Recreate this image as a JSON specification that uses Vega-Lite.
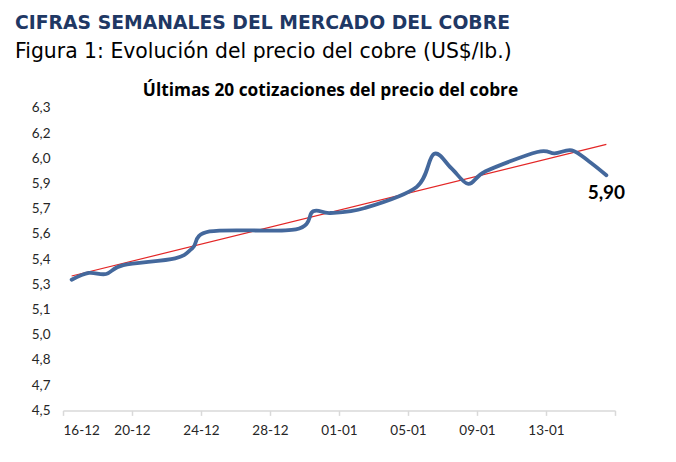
{
  "$schema": "https://vega.github.io/schema/vega-lite/v6.json",
  "autosize": {"type": "none"},
  "padding": {"left": 63, "top": 108, "right": 61, "bottom": 52},
  "width": 552,
  "height": 302.4,
  "title": {
    "text": "CIFRAS SEMANALES DEL MERCADO DEL COBRE",
    "subtitle": "Figura 1: Evolución del precio del cobre (US$/lb.)",
    "anchor": "start",
    "frame": "group",
    "dx": -48,
    "offset": 20,
    "font": "DejaVu Sans",
    "fontSize": 18.8,
    "fontWeight": "bold",
    "color": "#1F3864",
    "subtitleFont": "DejaVu Sans",
    "subtitleFontSize": 20.4,
    "subtitleColor": "#000000",
    "subtitlePadding": 9
  },
  "data": {
    "values": [
      {"date": "2025-12-16", "price": 5.278},
      {"date": "2025-12-17", "price": 5.318},
      {"date": "2025-12-18", "price": 5.312},
      {"date": "2025-12-19", "price": 5.365},
      {"date": "2025-12-22", "price": 5.405},
      {"date": "2025-12-23", "price": 5.465},
      {"date": "2025-12-24", "price": 5.565},
      {"date": "2025-12-29", "price": 5.578},
      {"date": "2025-12-30", "price": 5.685},
      {"date": "2025-12-31", "price": 5.675},
      {"date": "2026-01-02", "price": 5.705},
      {"date": "2026-01-05", "price": 5.83},
      {"date": "2026-01-06", "price": 6.026},
      {"date": "2026-01-07", "price": 5.943},
      {"date": "2026-01-08", "price": 5.848},
      {"date": "2026-01-09", "price": 5.923},
      {"date": "2026-01-12", "price": 6.038},
      {"date": "2026-01-13", "price": 6.03},
      {"date": "2026-01-14", "price": 6.048},
      {"date": "2026-01-15", "price": 5.982},
      {"date": "2026-01-16", "price": 5.9}
    ],
    "format": {"parse": {"date": "date"}}
  },
  "encoding": {
    "x": {
      "field": "date",
      "type": "temporal",
      "timeUnit": "utcyearmonthdate",
      "bandPosition": 0.5,
      "scale": {
        "type": "utc",
        "domain": [
          {"year": 2025, "month": 12, "date": 16, "utc": true},
          {"year": 2026, "month": 1, "date": 17, "utc": true}
        ]
      }
    },
    "y": {
      "field": "price",
      "type": "quantitative",
      "scale": {"domain": [4.5, 6.3], "nice": false, "zero": false},
      "axis": {
        "title": null,
        "values": [4.5, 4.65, 4.8, 4.95, 5.1, 5.25, 5.4, 5.55, 5.7, 5.85, 6.0, 6.15, 6.3],
        "labelExpr": "replace(format(round(datum.value * 10) / 10, '.1f'), '.', ',')",
        "domain": false,
        "ticks": false,
        "grid": false,
        "labelPadding": 13
      }
    }
  },
  "layer": [
    {
      "mark": {"type": "line", "color": "#E32626", "strokeWidth": 1.2},
      "transform": [{"regression": "price", "on": "date"}],
      "encoding": {
        "x": {
          "field": "date",
          "type": "temporal",
          "timeUnit": "utcyearmonthdate",
          "bandPosition": 0.5,
          "axis": {
            "title": null,
            "values": [
              {"year": 2025, "month": 12, "date": 16, "utc": true},
              {"year": 2025, "month": 12, "date": 20, "utc": true},
              {"year": 2025, "month": 12, "date": 24, "utc": true},
              {"year": 2025, "month": 12, "date": 28, "utc": true},
              {"year": 2026, "month": 1, "date": 1, "utc": true},
              {"year": 2026, "month": 1, "date": 5, "utc": true},
              {"year": 2026, "month": 1, "date": 9, "utc": true},
              {"year": 2026, "month": 1, "date": 13, "utc": true},
              {"year": 2026, "month": 1, "date": 17, "utc": true}
            ],
            "labelExpr": "utcFormat(datum.value, '%d-%m') == '17-01' ? '' : utcFormat(datum.value, '%d-%m')",
            "labelDx": 8.6,
            "labelPadding": 8,
            "tickSize": 5,
            "grid": false,
            "domainColor": "#D9D9D9",
            "domainWidth": 1.5,
            "tickColor": "#D9D9D9",
            "tickWidth": 1.5
          }
        }
      }
    },
    {
      "mark": {"type": "line", "interpolate": "cardinal", "color": "#44689C", "strokeWidth": 3.8, "strokeCap": "round"},
      "encoding": {
        "x": {"field": "date", "type": "temporal", "timeUnit": "utcyearmonthdate", "bandPosition": 0.5, "axis": null}
      }
    },
    {
      "mark": {"type": "text", "font": "Lato", "fontSize": 19, "fontWeight": "bold", "color": "#000000", "dy": 18, "baseline": "middle"},
      "transform": [
        {"filter": {"timeUnit": "utcyearmonthdate", "field": "date", "equal": {"year": 2026, "month": 1, "date": 16, "utc": true}}}
      ],
      "encoding": {
        "x": {
          "field": "date",
          "type": "temporal",
          "timeUnit": "utcyearmonthdate",
          "bandPosition": 0.5,
          "axis": {
            "orient": "top",
            "title": "Últimas 20 cotizaciones del precio del cobre",
            "titleFont": "Open Sans",
            "titleFontSize": 17.3,
            "titleFontWeight": "bold",
            "titleColor": "#000000",
            "titleBaseline": "alphabetic",
            "titlePadding": 12,
            "titleX": 267,
            "labels": false,
            "ticks": false,
            "domain": false,
            "grid": false
          }
        },
        "text": {"field": "price", "type": "quantitative", "format": ".2f"}
      }
    }
  ],
  "resolve": {"axis": {"x": "independent"}},
  "config": {
    "background": "#ffffff",
    "view": {"stroke": null},
    "locale": {
      "number": {"decimal": ",", "thousands": ".", "grouping": [3], "currency": ["US$", ""]}
    },
    "axis": {
      "labelFont": "Lato",
      "labelFontSize": 13.5,
      "labelColor": "#262626"
    }
  }
}
